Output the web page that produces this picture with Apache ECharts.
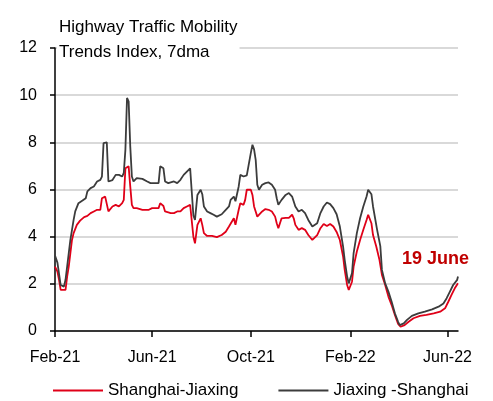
<!DOCTYPE html>
<html>
<head>
<meta charset="utf-8">
<script src="https://cdn.jsdelivr.net/npm/echarts@6/dist/echarts.min.js"></script>
<style>
  html, body { margin: 0; padding: 0; background: #fff; }
  #chart { width: 493px; height: 401px; }
</style>
</head>
<body>
<div id="chart"></div>
<script>
// days counted from 1 Feb 2021
const tickDays = [0, 120, 242, 365, 485];
const tickLabels = ['Feb-21', 'Jun-21', 'Oct-21', 'Feb-22', 'Jun-22'];

// Shanghai-Jiaxing
const redDays = [0, 3, 5, 7, 13, 15, 17, 19, 21, 23, 27, 31, 36, 40, 44, 48, 52, 56, 58, 62, 66, 71, 75, 79, 83, 85, 87, 91, 93, 95, 97, 101, 108, 116, 120, 128, 130, 134, 136, 143, 147, 151, 155, 159, 163, 167, 169, 171, 173, 176, 180, 182, 184, 188, 194, 200, 202, 206, 211, 215, 217, 221, 223, 227, 229, 233, 235, 237, 242, 244, 246, 248, 250, 252, 256, 260, 264, 268, 272, 274, 276, 280, 285, 289, 293, 295, 297, 301, 305, 309, 313, 318, 320, 324, 328, 332, 336, 340, 344, 348, 352, 356, 358, 361, 363, 365, 367, 369, 373, 377, 381, 385, 387, 389, 391, 393, 397, 401, 404, 408, 412, 416, 420, 424, 427, 432, 437, 443, 451, 459, 468, 476, 482, 486, 490, 494, 498];
const redVals = [2.73, 2.52, 2.17, 1.74, 1.74, 2.31, 2.73, 3.3, 3.86, 4.15, 4.5, 4.68, 4.83, 4.88, 5.0, 5.07, 5.14, 5.14, 5.63, 5.7, 5.07, 5.28, 5.35, 5.28, 5.42, 5.56, 6.9, 6.98, 6.13, 5.35, 5.21, 5.21, 5.14, 5.14, 5.21, 5.21, 5.42, 5.3, 5.07, 5.0, 5.0, 5.07, 5.07, 5.21, 5.28, 5.35, 5.3, 4.0, 3.72, 4.5, 4.78, 4.5, 4.15, 4.03, 4.03, 3.98, 3.98, 4.07, 4.21, 4.43, 4.5, 4.78, 4.5, 5.14, 5.42, 5.35, 5.56, 5.99, 5.99, 5.77, 5.28, 5.2, 4.85, 4.8, 5.07, 5.17, 5.14, 5.07, 4.85, 4.57, 4.36, 4.78, 4.8, 4.8, 4.93, 4.78, 4.5, 4.29, 4.36, 4.29, 4.07, 3.86, 3.79, 4.07, 4.36, 4.54, 4.45, 4.54, 4.43, 4.2, 3.86, 3.16, 2.59, 1.95, 1.74, 1.74, 2.09, 2.73, 3.37, 3.86, 4.29, 4.71, 4.93, 4.93, 4.57, 4.07, 3.58, 3.01, 2.38, 1.95, 1.46, 1.1, 0.68, 0.3, 0.18, 0.25, 0.39, 0.54, 0.64, 0.68, 0.75, 0.82, 0.96, 1.24, 1.53, 1.81, 2.02];

// Jiaxing -Shanghai
const grayDays = [0, 3, 7, 9, 11, 13, 15, 17, 19, 21, 23, 25, 29, 34, 38, 40, 44, 48, 52, 56, 58, 60, 64, 66, 71, 75, 79, 83, 85, 87, 89, 91, 93, 95, 97, 101, 108, 114, 118, 128, 130, 134, 136, 140, 147, 151, 155, 159, 163, 167, 169, 171, 173, 176, 180, 182, 184, 188, 192, 196, 200, 202, 206, 211, 215, 217, 221, 223, 227, 229, 233, 237, 239, 242, 244, 246, 248, 250, 252, 256, 260, 264, 268, 272, 274, 276, 280, 285, 289, 293, 295, 297, 301, 305, 309, 313, 318, 320, 324, 328, 332, 336, 340, 344, 348, 352, 356, 358, 361, 363, 365, 367, 369, 373, 377, 381, 385, 387, 389, 391, 393, 398, 402, 404, 408, 412, 416, 420, 424, 426, 431, 435, 441, 449, 457, 466, 474, 480, 484, 488, 492, 497, 498];
const grayVals = [3.2, 2.9, 1.95, 1.88, 1.88, 2.17, 2.73, 3.3, 3.86, 4.29, 4.71, 5.07, 5.42, 5.53, 5.63, 5.92, 6.06, 6.13, 6.34, 6.41, 6.55, 7.97, 8.0, 6.34, 6.4, 6.62, 6.62, 6.55, 6.7, 7.69, 9.88, 9.74, 7.83, 6.55, 6.34, 6.48, 6.45, 6.34, 6.27, 6.27, 6.98, 6.9, 6.34, 6.27, 6.34, 6.27, 6.41, 6.62, 6.76, 6.9, 6.85, 4.9, 4.71, 5.77, 5.99, 5.8, 5.28, 5.07, 5.0, 4.93, 4.85, 4.78, 4.95, 5.14, 5.28, 5.56, 5.7, 5.5, 6.13, 6.62, 6.55, 6.6, 6.98, 7.55, 7.9, 7.7, 7.26, 6.2, 5.99, 6.2, 6.27, 6.3, 6.2, 5.99, 5.63, 5.35, 5.56, 5.77, 5.85, 5.7, 5.49, 5.28, 5.07, 5.14, 5.0, 4.71, 4.43, 4.36, 4.57, 5.0, 5.28, 5.45, 5.38, 5.21, 4.95, 4.43, 3.58, 3.01, 2.31, 2.02, 1.95, 2.45, 3.3, 4.15, 4.78, 5.28, 5.7, 5.99, 6.0, 5.8, 5.28, 4.3, 3.6, 2.59, 2.02, 1.67, 1.24, 0.75, 0.39, 0.25, 0.32, 0.47, 0.64, 0.75, 0.82, 0.92, 1.03, 1.17, 1.39, 1.67, 1.95, 2.17, 2.31];

const zip = (xs, ys) => xs.map((x, i) => [x, ys[i]]);

const font = "'Liberation Sans', Arial, sans-serif";
const chart = echarts.init(document.getElementById('chart'));

chart.setOption({
  animation: false,
  backgroundColor: '#fff',
  textStyle: { fontFamily: font },
  title: {
    text: 'Highway Traffic Mobility\nTrends Index, 7dma',
    left: 57,
    top: 15,
    padding: [0, 2],
    backgroundColor: '#fff',
    textStyle: { fontFamily: font, fontSize: 17, fontWeight: 'normal', color: '#000', lineHeight: 25 }
  },
  grid: { left: 55, right: 35, top: 48, bottom: 70 },
  xAxis: {
    type: 'value',
    min: 0,
    max: 498,
    axisLine: { show: true, lineStyle: { color: '#000', width: 1.5 } },
    axisTick: { show: true, customValues: tickDays, length: 6, lineStyle: { color: '#000', width: 1.5 } },
    axisLabel: {
      customValues: tickDays,
      formatter: (v) => tickLabels[tickDays.indexOf(v)],
      color: '#000', fontSize: 16, fontFamily: font, margin: 19
    },
    splitLine: { show: false }
  },
  yAxis: {
    type: 'value',
    min: 0,
    max: 12,
    interval: 2,
    axisLine: { show: true, lineStyle: { color: '#000', width: 1.5 } },
    axisTick: { show: true, length: 5, lineStyle: { color: '#000', width: 1.5 } },
    axisLabel: { color: '#000', fontSize: 16, fontFamily: font, margin: 18 },
    splitLine: { lineStyle: { color: '#d9d9d9', width: 2 } }
  },
  legend: {
    bottom: -3,
    left: 48,
    icon: 'rect',
    itemWidth: 50,
    itemHeight: 2,
    itemGap: 40,
    textStyle: { fontFamily: font, fontSize: 17, color: '#000' },
    data: ['Shanghai-Jiaxing', 'Jiaxing -Shanghai']
  },
  graphic: [{
    type: 'text',
    left: 402,
    top: 250,
    style: { text: '19 June', fill: '#c00000', font: "bold 18px 'Liberation Sans', Arial, sans-serif" }
  }],
  series: [
    {
      name: 'Shanghai-Jiaxing',
      type: 'line',
      showSymbol: false,
      data: zip(redDays, redVals),
      itemStyle: { color: '#e00018' },
      lineStyle: { color: '#e00018', width: 1.8 }
    },
    {
      name: 'Jiaxing -Shanghai',
      type: 'line',
      showSymbol: false,
      data: zip(grayDays, grayVals),
      itemStyle: { color: '#3c3c3c' },
      lineStyle: { color: '#3c3c3c', width: 1.8 }
    }
  ]
});
</script>
</body>
</html>
